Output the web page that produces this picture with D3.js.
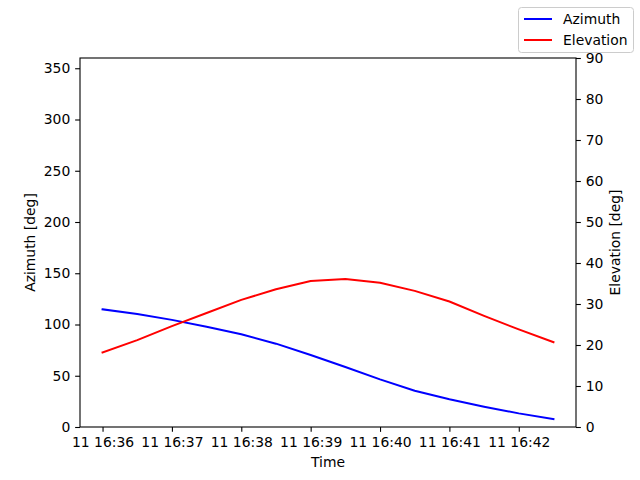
<!DOCTYPE html>
<html><head><meta charset="utf-8">
<script src="https://cdn.jsdelivr.net/npm/d3@7"></script>
<style>body{margin:0;background:#fff}svg text{font-family:"DejaVu Sans",sans-serif;}</style>
</head><body><svg id="c" width="640" height="480"></svg>
<script>
const times = ["16:36:00","16:36:30","16:37:00","16:37:30","16:38:00","16:38:30","16:39:00","16:39:30","16:40:00","16:40:30","16:41:00","16:41:30","16:42:00","16:42:30"];
const azimuth = [114.8,110.2,104.5,97.8,90.5,81.3,70.3,58.5,46.5,35.4,27.0,19.8,13.3,7.8];
const elevation = [18.2,21.2,24.6,27.8,31.0,33.6,35.6,36.1,35.2,33.2,30.6,27.1,23.8,20.7];
const xTicks = ["16:36:00","16:37:00","16:38:00","16:39:00","16:40:00","16:41:00","16:42:00"];
const azTicks = [0,50,100,150,200,250,300,350];
const elTicks = [0,10,20,30,40,50,60,70,80,90];
const day = "2024-01-11T";

const parse = s => new Date(day + s);
const dates = times.map(parse);
const svg = d3.select("#c");
const L=80,R=576,T=58,B=427;
const t0 = dates[0], t1 = dates[dates.length-1];
const span = t1 - t0;
const x = d3.scaleTime().domain([new Date(+t0 - span*0.05), new Date(+t1 + span*0.05)]).range([L,R]);
const yA = d3.scaleLinear().domain([0,360]).range([B,T]);
const yE = d3.scaleLinear().domain([0,90]).range([B,T]);
const fs = 13.9, tl = 4.86;
const fmt = d3.timeFormat("%d %H:%M");

const gx = svg.append("g").attr("transform",`translate(0,${B})`)
  .call(d3.axisBottom(x).tickValues(xTicks.map(parse)).tickFormat(fmt).tickSize(tl).tickPadding(4.9));
const gl = svg.append("g").attr("transform",`translate(${L},0)`)
  .call(d3.axisLeft(yA).tickValues(azTicks).tickSize(tl).tickPadding(4.9));
const gr = svg.append("g").attr("transform",`translate(${R},0)`)
  .call(d3.axisRight(yE).tickValues(elTicks).tickSize(tl).tickPadding(4.9));
[gx,gl,gr].forEach(g=>{
  g.select(".domain").remove();
  g.selectAll("text").attr("font-size",fs).attr("fill","#000").attr("font-family","DejaVu Sans");
  g.selectAll("line").attr("stroke","#000").attr("stroke-width",1.1);
});

const lineA = d3.line().x((d,i)=>x(dates[i])).y(d=>yA(d));
const lineE = d3.line().x((d,i)=>x(dates[i])).y(d=>yE(d));
svg.append("path").attr("d",lineA(azimuth)).attr("fill","none").attr("stroke","#0000ff").attr("stroke-width",2).attr("stroke-linejoin","round").attr("stroke-linecap","square");
svg.append("path").attr("d",lineE(elevation)).attr("fill","none").attr("stroke","#ff0000").attr("stroke-width",2).attr("stroke-linejoin","round").attr("stroke-linecap","square");

svg.append("rect").attr("x",L).attr("y",T).attr("width",R-L).attr("height",B-T).attr("fill","none").attr("stroke","#000").attr("stroke-width",1.1);

svg.append("text").attr("x",(L+R)/2).attr("y",467).attr("text-anchor","middle").attr("font-size",fs).text("Time");
svg.append("text").attr("transform",`translate(35,${(T+B)/2}) rotate(-90)`).attr("text-anchor","middle").attr("font-size",fs).text("Azimuth [deg]");
svg.append("text").attr("transform",`translate(620,${(T+B)/2}) rotate(-90)`).attr("text-anchor","middle").attr("font-size",fs).text("Elevation [deg]");

// legend
const lg = svg.append("g");
lg.append("rect").attr("x",518.5).attr("y",7.5).attr("width",115).attr("height",45).attr("rx",3).attr("fill","#fff").attr("fill-opacity",0.8).attr("stroke","#cccccc").attr("stroke-width",1);
const items = [{name:"Azimuth",c:"#0000ff"},{name:"Elevation",c:"#ff0000"}];
items.forEach((it,i)=>{
  const yy = 19 + i*21;
  lg.append("line").attr("x1",524).attr("x2",552).attr("y1",yy).attr("y2",yy).attr("stroke",it.c).attr("stroke-width",2);
  lg.append("text").attr("x",563).attr("y",yy).attr("dy","0.35em").attr("font-size",fs).text(it.name);
});
</script></body></html>
